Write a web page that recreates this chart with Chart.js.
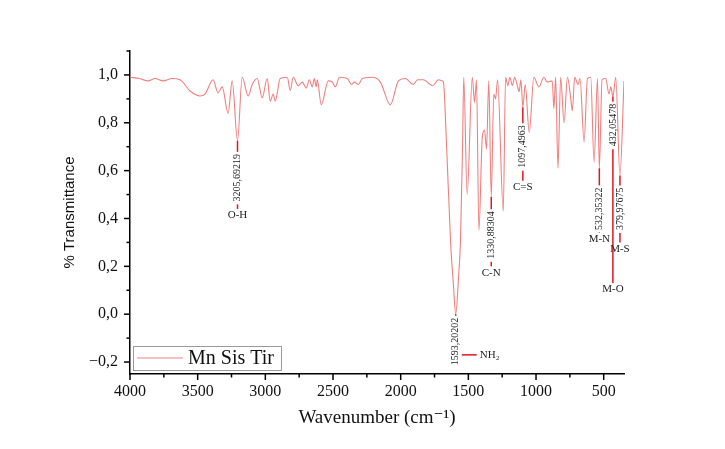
<!DOCTYPE html>
<html lang="en">
<head>
<meta charset="UTF-8">
<title>Mn Sis Tir FT-IR</title>
<script src="https://cdn.jsdelivr.net/npm/chart.js"></script>
<style>
  html, body { margin: 0; padding: 0; background: #fff; }
  .chart-container { position: relative; width: 725px; height: 449px; }
</style>
</head>
<body>
<div class="chart-container"><canvas id="irChart" width="725" height="449"></canvas></div>
<script>
// spectrum (cm-1, transmittance)
const wavenumbers = [
  4000, 3930, 3867, 3815, 3756, 3689, 3630, 3556, 3482, 3445, 3386, 3349, 3319, 3275, 3245,
  3205.69, 3171, 3127, 3097, 3060, 3023, 2986, 2964, 2942, 2927, 2890, 2838, 2816, 2794, 2757,
  2727, 2698, 2675, 2653, 2638, 2624, 2616, 2587, 2535, 2505, 2483, 2453, 2394, 2364, 2342,
  2313, 2283, 2209, 2150, 2076, 2017, 1965, 1906, 1876, 1832, 1765, 1721, 1691, 1684, 1662,
  1632, 1610, 1593.2, 1573, 1558, 1543, 1534, 1509, 1471, 1454, 1440, 1422, 1397, 1380, 1366,
  1349, 1330.88, 1312, 1299, 1284, 1242, 1225, 1208, 1193, 1175, 1158, 1138, 1125, 1112, 1097.5,
  1080, 1050, 1016, 979, 942, 917, 880, 868, 855, 838, 818, 793, 768, 744, 732,
  714, 690, 675, 645, 620, 596, 571, 546, 532.35, 512, 485, 461, 448, 432.05, 411,
  379.98, 350
];
const transmittance = [
  0.99, 0.985, 0.975, 0.985, 0.975, 0.985, 0.98, 0.933, 0.912, 0.92, 0.98, 0.925, 0.95, 0.84, 0.975,
  0.725, 0.99, 0.912, 0.96, 0.985, 0.905, 0.985, 0.89, 0.92, 0.89, 0.985, 0.99, 0.935, 0.99, 0.955,
  0.97, 0.945, 0.98, 0.95, 0.985, 0.95, 0.98, 0.875, 0.975, 0.97, 0.95, 0.99, 0.985, 0.96, 0.97,
  0.96, 0.985, 0.99, 0.97, 0.875, 0.975, 0.985, 0.96, 0.98, 0.98, 0.955, 0.98, 0.975, 0.97, 0.72,
  0.31, 0.12, 0.0, 0.15, 0.31, 0.70, 0.99, 0.50, 0.99, 0.885, 0.98, 0.35, 0.74, 0.77, 0.69,
  0.975, 0.49, 0.92, 0.90, 0.98, 0.43, 0.99, 0.955, 0.99, 0.955, 0.99, 0.955, 0.93, 0.98, 0.865,
  0.96, 0.76, 0.99, 0.95, 0.99, 0.97, 0.975, 0.86, 0.99, 0.61, 0.99, 0.80, 0.99, 0.905, 0.85,
  0.99, 0.96, 0.985, 0.72, 0.985, 0.99, 0.635, 0.985, 0.61, 0.98, 0.985, 0.92, 0.95, 0.91, 0.99,
  0.58, 0.975
];

const xTickValues = [4000, 3500, 3000, 2500, 2000, 1500, 1000, 500];
const xTickLabels = ['4000', '3500', '3000', '2500', '2000', '1500', '1000', '500'];
const yTickValues = [-0.2, 0, 0.2, 0.4, 0.6, 0.8, 1.0];
const yTickLabels = ['\u22120,2', '0,0', '0,2', '0,4', '0,6', '0,8', '1,0'];

// peak annotations
const peakPositions = [3205.69219, 1593.20202, 1330.88304, 1097.4963, 532.35322, 432.05478, 379.97675];
const peakLabels = ['3205,69219', '1593,20202', '1330,88304', '1097,4963', '532,35322', '432,05478', '379,97675'];
const peakTips = [0.725, 0.0, 0.49, 0.865, 0.61, 0.91, 0.58];
const bondLabels = ['O-H', 'NH\u2082', 'C-N', 'C=S', 'M-N', 'M-O', 'M-S'];
// where each rotated label starts and where its lower stem ends (transmittance units)
const labelTops = [0.67, -0.015, 0.43, 0.79, 0.53, 0.88, 0.53];
const stemEnds = [0.44, -0.17, 0.20, 0.558, 0.342, 0.13, 0.30];

const serif = '"Liberation Serif", "DejaVu Serif", serif';
const sans = '"Liberation Sans", Arial, sans-serif';
const lineColor = '#f08080';
const annotRed = '#e3161e';

const points = wavenumbers.map((w, i) => ({ x: w, y: transmittance[i] }));

function minorTicks(major, min, max) {
  const step = Math.abs(major[1] - major[0]);
  const out = [];
  const lo = Math.min(...major) - step / 2, hi = Math.max(...major) + step / 2;
  for (let v = lo; v <= hi + 1e-9; v += step) {
    if (v >= min - 1e-9 && v <= max + 1e-9) out.push(v);
  }
  return out;
}

const irOverlay = {
  id: 'irOverlay',
  afterDraw(chart) {
    const { ctx, chartArea: area, scales: { x, y } } = chart;
    ctx.save();

    // axis tick marks, outward
    ctx.strokeStyle = '#000';
    ctx.lineWidth = 1.5;
    const line = (x1, y1, x2, y2) => { ctx.beginPath(); ctx.moveTo(x1, y1); ctx.lineTo(x2, y2); ctx.stroke(); };
    xTickValues.forEach(v => { const p = x.getPixelForValue(v); line(p, area.bottom, p, area.bottom + 6); });
    minorTicks(xTickValues, x.min, x.max).forEach(v => { const p = x.getPixelForValue(v); line(p, area.bottom, p, area.bottom + 3.5); });
    yTickValues.forEach(v => { const p = y.getPixelForValue(v); line(area.left, p, area.left - 6, p); });
    minorTicks(yTickValues, y.min, y.max).forEach(v => { const p = y.getPixelForValue(v); line(area.left, p, area.left - 3.5, p); });

    // peak labels
    peakPositions.forEach((wn, i) => {
      const px = x.getPixelForValue(wn);
      const tip = y.getPixelForValue(peakTips[i]);
      const top = y.getPixelForValue(labelTops[i]);
      ctx.strokeStyle = annotRed;
      ctx.lineWidth = 1.5;
      line(px, tip, px, top - 2);

      ctx.font = '10px ' + serif;
      const len = ctx.measureText(peakLabels[i]).width;
      ctx.fillStyle = '#222';
      ctx.save();
      ctx.translate(px, top);
      ctx.rotate(-Math.PI / 2);
      ctx.textAlign = 'right';
      ctx.textBaseline = 'middle';
      ctx.fillText(peakLabels[i], 0, 0);
      ctx.restore();

      const end = y.getPixelForValue(stemEnds[i]);
      ctx.font = '11px ' + serif;
      if (bondLabels[i].startsWith('NH')) {
        line(px + 6, end, px + 21, end);
        ctx.textAlign = 'left';
        ctx.textBaseline = 'middle';
        ctx.fillText(bondLabels[i], px + 24, end);
      } else {
        line(px, top + len + 3, px, end);
        ctx.textAlign = 'center';
        ctx.textBaseline = 'top';
        ctx.fillText(bondLabels[i], px, end + 1);
      }
    });

    // legend box, bottom-left inside the plot
    const bx = area.left + 3, by = area.bottom - 28;
    ctx.fillStyle = '#fff';
    ctx.fillRect(bx, by, 148, 24);
    ctx.strokeStyle = '#999';
    ctx.lineWidth = 1;
    ctx.strokeRect(bx + 0.5, by + 0.5, 148, 24);
    ctx.strokeStyle = lineColor;
    ctx.lineWidth = 1;
    line(bx + 4, by + 12, bx + 50, by + 12);
    ctx.fillStyle = '#111';
    ctx.font = '20px ' + serif;
    ctx.textAlign = 'left';
    ctx.textBaseline = 'middle';
    ctx.fillText(chart.data.datasets[0].label, bx + 55, by + 13);

    ctx.restore();
  }
};

const ctx = document.getElementById('irChart').getContext('2d');
const irChart = new Chart(ctx, {
  type: 'line',
  data: {
    datasets: [{
      label: 'Mn Sis Tir',
      data: points,
      borderColor: lineColor,
      borderWidth: 1.1,
      pointRadius: 0,
      fill: false,
      cubicInterpolationMode: 'monotone'
    }]
  },
  options: {
    responsive: false,
    animation: false,
    layout: { padding: { left: 0, right: 101, top: 51, bottom: 0 } },
    plugins: { legend: { display: false }, tooltip: { enabled: false } },
    scales: {
      x: {
        type: 'linear',
        reverse: true,
        min: 350,
        max: 4000,
        afterBuildTicks: s => { s.ticks = xTickValues.map(v => ({ value: v })); },
        afterFit: s => { s.height = 75; },
        ticks: {
          autoSkip: false,
          maxRotation: 0,
          padding: 0,
          color: '#111',
          font: { family: serif, size: 16 },
          callback: v => xTickLabels[xTickValues.indexOf(v)]
        },
        grid: { display: false, drawTicks: true, tickLength: 8 },
        border: { display: true, color: '#000', width: 1.5 },
        title: {
          display: true,
          text: 'Wavenumber (cm\u207B\u00B9)',
          color: '#111',
          font: { family: serif, size: 19 },
          padding: { top: 0, bottom: 20 }
        }
      },
      y: {
        min: -0.25,
        max: 1.1,
        afterBuildTicks: s => { s.ticks = yTickValues.map(v => ({ value: v })); },
        afterFit: s => { s.width = 130; },
        ticks: {
          autoSkip: false,
          padding: 4,
          color: '#111',
          font: { family: serif, size: 16 },
          callback: v => yTickLabels[yTickValues.findIndex(t => Math.abs(t - v) < 1e-6)]
        },
        grid: { display: false, drawTicks: true, tickLength: 8 },
        border: { display: true, color: '#000', width: 1.5 },
        title: {
          display: true,
          text: '% Transmittance',
          color: '#111',
          font: { family: sans, size: 15 },
          padding: { top: 61, bottom: 0 }
        }
      }
    }
  },
  plugins: [irOverlay]
});
</script>
</body>
</html>
